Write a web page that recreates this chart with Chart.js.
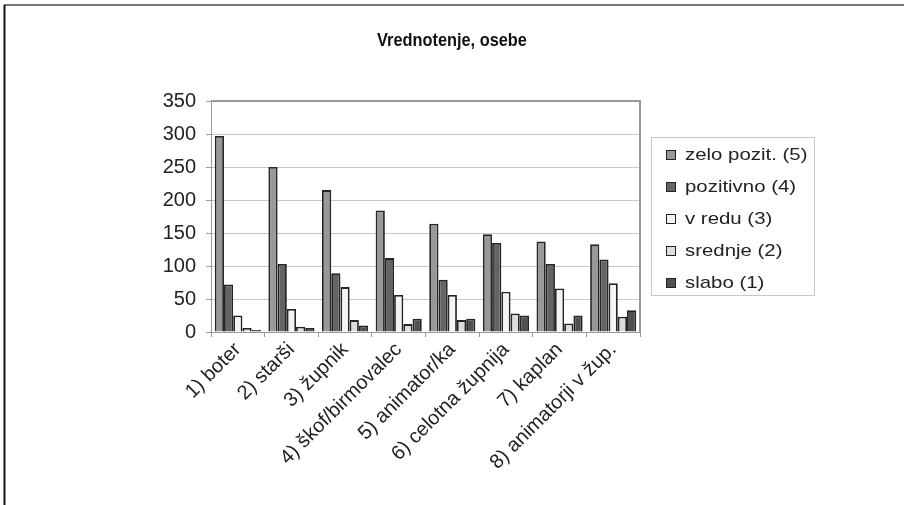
<!DOCTYPE html>
<html>
<head>
<meta charset="utf-8">
<script src="https://cdn.jsdelivr.net/npm/chart.js@4"></script>
<style>
  html, body { margin: 0; padding: 0; background: #fff; }
  #wrap { position: relative; width: 904px; height: 505px; }
  #legend {
    position: absolute; left: 651px; top: 137px; width: 164px; height: 159px;
    border: 1px solid #c8c8c8; box-sizing: border-box;
    font-family: "Liberation Sans", Arial, sans-serif; font-size: 17px; color: #222;
    padding-top: 1px;
  }
  #legend div { height: 32px; line-height: 32px; padding-left: 14px; white-space: nowrap; }
  #legend span {
    display: inline-block; width: 8px; height: 8px; border: 1.5px solid #222;
    margin-right: 9px; vertical-align: 0px;
  }
  #legend em { font-style: normal; display: inline-block; transform: scaleX(1.2); transform-origin: left center; }
</style>
</head>
<body>
<div id="wrap">
  <canvas id="myChart" width="904" height="505"></canvas>
  <div id="legend"></div>
</div>
<script>
const categories = ['1) boter', '2) starši', '3) župnik', '4) škof/birmovalec', '5) animator/ka', '6) celotna župnija', '7) kaplan', '8) animatorji v žup.'];
const seriesNames = ['zelo pozit. (5)', 'pozitivno (4)', 'v redu (3)', 'srednje (2)', 'slabo (1)'];
const zeloPozit = [297, 250, 215, 184, 164, 148, 137, 133];
const pozitivno = [72, 103, 89, 112, 79, 135, 103, 110];
const vRedu = [25, 35, 68, 56, 56, 61, 66, 74];
const srednje = [6, 8, 18, 12, 18, 28, 13, 23];
const slabo = [3, 6, 10, 20, 20, 25, 25, 33];
const yTicks = [0, 50, 100, 150, 200, 250, 300, 350];
const colors = ['#98989c', '#646464', '#f4f4f4', '#dcdcdc', '#505050'];
const title = 'Vrednotenje, osebe';

const font = "'Liberation Sans', Arial, sans-serif";

// Frame round the chart, title and border of the plot area
const framePlugin = {
    id: 'frame',
    afterDraw(chart) {
        const c = chart.ctx;
        const a = chart.chartArea;
        c.save();
        c.strokeStyle = '#777';
        c.lineWidth = 2;
        c.beginPath();
        c.moveTo(4, 5);
        c.lineTo(904, 5);
        c.stroke();
        c.strokeStyle = '#111';
        c.beginPath();
        c.moveTo(4.5, 5);
        c.lineTo(4.5, 505);
        c.stroke();
        c.strokeStyle = '#999';
        c.lineWidth = 2;
        c.beginPath();
        c.moveTo(a.left, a.top);
        c.lineTo(a.right, a.top);
        c.lineTo(a.right, a.bottom);
        c.stroke();

        // title, a little condensed
        c.fillStyle = '#111';
        c.font = "bold 19px " + font;
        c.textAlign = 'center';
        c.textBaseline = 'middle';
        c.translate(452, 41);
        c.scale(0.86, 1);
        c.fillText(title, 0, 0);
        c.restore();
    }
};

const data = [zeloPozit, pozitivno, vRedu, srednje, slabo];
const ctx = document.getElementById('myChart').getContext('2d');
const myChart = new Chart(ctx, {
    type: 'bar',
    data: {
        labels: categories,
        datasets: seriesNames.map((name, i) => ({
            label: name,
            data: data[i],
            backgroundColor: colors[i],
            borderColor: '#252525',
            borderWidth: 1.8,
            barPercentage: 1,
            categoryPercentage: 0.86
        }))
    },
    options: {
        responsive: false,
        animation: false,
        layout: { padding: { left: 0, right: 264, top: 101, bottom: 0 } },
        plugins: {
            legend: { display: false },
            tooltip: { enabled: false },
            title: { display: false }
        },
        scales: {
            x: {
                afterFit(scale) { scale.height = 173; },
                grid: { drawOnChartArea: false, offset: true, tickLength: 5, color: '#999' },
                border: { color: '#999', width: 1 },
                ticks: {
                    color: '#222',
                    font: { family: font, size: 20 },
                    maxRotation: 45,
                    minRotation: 45,
                    autoSkip: false,
                    padding: 1
                }
            },
            y: {
                min: 0,
                max: 350,
                afterFit(scale) { scale.width = 211; },
                afterBuildTicks(scale) { scale.ticks = yTicks.map(v => ({ value: v })); },
                grid: { color: '#c8c8c8', tickLength: 5, tickColor: '#999' },
                border: { color: '#999', width: 1 },
                ticks: {
                    color: '#222',
                    font: { family: font, size: 20 },
                    padding: 10
                }
            }
        }
    },
    plugins: [framePlugin]
});

// Legend
const legend = document.getElementById('legend');
seriesNames.forEach((name, i) => {
    const row = document.createElement('div');
    row.innerHTML = `<span style="background:${colors[i]}"></span><em>${name}</em>`;
    legend.appendChild(row);
});
</script>
</body>
</html>
